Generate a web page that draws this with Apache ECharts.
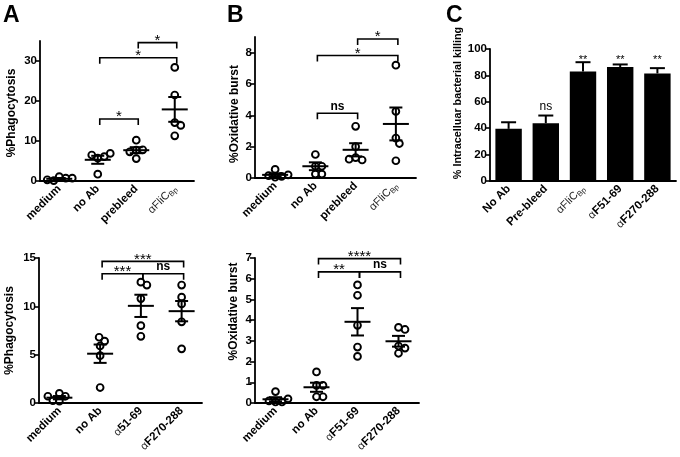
<!DOCTYPE html>
<html><head><meta charset="utf-8">
<script src="https://cdn.jsdelivr.net/npm/echarts@6/dist/echarts.min.js"></script>
<style>html,body{margin:0;padding:0;background:#fff}#c{width:680px;height:457px}</style>
</head><body><div id="c"></div>
<script>
// ---------------- DATA ----------------
const catsTop = ['medium', 'no Ab', 'prebleed', 'αFliCBp'];
const catsBotA = ['medium', 'no Ab', 'α51-69', 'αF270-288'];
const catsBotB = ['medium', 'no Ab', 'αF51-69', 'αF270-288'];
const catsC = ['No Ab', 'Pre-bleed', 'αFliCBp', 'αF51-69', 'αF270-288'];

// Panel A (top): % phagocytosis, individual donors
const phagoTop = [
  [1.1, 0.7, 0.1, 0.3, 0.7],
  [5.7, 6.1, 6.5, 6.9, 1.7],
  [7.7, 7.8, 7.3, 10.2, 5.6],
  [28.4, 21.5, 14.6, 13.9, 11.3]
];
const phagoTopMean = [0.55, 5.3, 7.7, 17.9];
const phagoTopSem = [0.2, 1.0, 0.75, 3.1];

// Panel B (top): % oxidative burst
const oxTop = [
  [0.05, 0.1, 0.55, 0.15, 0.2],
  [0.75, 0.75, 1.5, 0.25, 0.25],
  [3.3, 2.0, 1.3, 1.15, 1.2],
  [7.2, 4.25, 2.55, 2.2, 1.1]
];
const oxTopMean = [0.2, 0.75, 1.8, 3.45];
const oxTopSem = [0.1, 0.25, 0.42, 1.05];

// Panel A (bottom): % phagocytosis
const phagoBot = [
  [1.0, 0.7, 0.2, 0.25, 0.7],
  [5.9, 6.4, 6.8, 4.9, 1.6],
  [12.5, 12.2, 10.8, 8.0, 6.9],
  [12.2, 10.95, 10.25, 8.4, 5.6]
];
const phagoBotMean = [0.55, 5.1, 10.05, 9.5];
const phagoBotSem = [0.17, 0.95, 1.15, 1.05];

// Panel B (bottom): % oxidative burst
const oxBot = [
  [0.05, 0.05, 0.55, 0.1, 0.2],
  [0.85, 0.85, 1.5, 0.3, 0.3],
  [5.7, 5.2, 3.75, 2.7, 2.25],
  [3.65, 3.55, 2.75, 2.4, 2.65]
];
const oxBotMean = [0.18, 0.76, 3.92, 2.98];
const oxBotSem = [0.1, 0.22, 0.66, 0.26];

// Panel C: % intracellular bacterial killing (mean, SEM, significance)
const killC = [39.5, 43.8, 83.0, 86.3, 81.5];
const killCErr = [5.0, 5.8, 7.0, 2.0, 4.0];
const killCSig = ['', 'ns', '**', '**', '**'];

// Comparisons: [fromIndex, toIndex, bracket level, label]
const sigPhagoTop = [[2, 3, 34.6, '*'], [1, 3, 30.8, '*'], [1, 2, 15.5, '*']];
const sigOxTop = [[2, 3, 8.87, '*'], [1, 3, 7.82, '*'], [1, 2, 4.13, 'ns']];
const sigPhagoBot = [[1, 3, 14.65, '***'], [1, 2, 13.37, '***'], [2, 3, 13.37, 'ns']];
const sigOxBot = [[1, 3, 6.97, '****'], [1, 2, 6.33, '**'], [2, 3, 6.33, 'ns']];

// Tick labels
const ticksPhagoTop = [0, 10, 20, 30];
const ticksOxTop = [0, 2, 4, 6, 8];
const ticksPhagoBot = [0, 5, 10, 15];
const ticksOxBot = [0, 1, 2, 3, 4, 5, 6, 7];
const ticksC = [0, 20, 40, 60, 80, 100];

// ---------------- STYLE / HELPERS ----------------
const FONT = '"Liberation Sans", Arial, Helvetica, sans-serif';
const BLACK = '#000';

function catLabel(s) {
  if (s[0] !== 'α') return '{b|' + s + '}';
  const rest = s.slice(1);
  if (rest.indexOf('FliC') === 0) return '{g|αFliC}{s|' + rest.slice(4) + '}';
  return '{g|α}{b|' + rest + '}';
}
const richLab = {
  b: { fontSize: 11.5, fontWeight: 'bold', color: BLACK, fontFamily: FONT, lineHeight: 14 },
  g: { fontSize: 11, fontWeight: 'normal', color: '#222', fontFamily: FONT, lineHeight: 14 },
  s: { fontSize: 7.5, fontWeight: 'normal', color: '#222', fontFamily: FONT, lineHeight: 14, verticalAlign: 'bottom', padding: [5, 0, 0, 0] }
};

function xAx(gi, cats) {
  return {
    type: 'category', gridIndex: gi, data: cats, boundaryGap: true,
    axisLine: { lineStyle: { color: BLACK, width: 1.8 } },
    axisTick: { alignWithLabel: true, length: 5, lineStyle: { color: BLACK, width: 1.6 } },
    axisLabel: { interval: 0, rotate: 45, margin: 6, formatter: catLabel, rich: richLab }
  };
}
function yAx(gi, max, interval, ticks, name, gap, pad, fs) {
  return {
    type: 'value', gridIndex: gi, min: 0, max: max, interval: interval,
    name: name, nameLocation: 'middle', nameRotate: 90, nameGap: gap,
    nameTextStyle: { fontSize: fs || 12, fontWeight: 'bold', color: BLACK, fontFamily: FONT, padding: pad },
    splitLine: { show: false },
    axisLine: { show: true, lineStyle: { color: BLACK, width: 1.8 } },
    axisTick: { show: true, length: 5, customValues: ticks, lineStyle: { color: BLACK, width: 1.6 } },
    axisLabel: { customValues: ticks, margin: 3, fontSize: 11.5, fontWeight: 'bold', color: BLACK, fontFamily: FONT }
  };
}

// simple beeswarm in pixel space
function swarm(ys, D) {
  const placed = [], out = [];
  for (const y of ys) {
    let x = 0;
    for (let s = 0; s < 400; s++) {
      const cand = s === 0 ? 0 : (s % 2 ? 1 : -1) * Math.ceil(s / 2) * 0.5;
      if (placed.every(p => Math.hypot(p[0] - cand, p[1] - y) >= D)) { x = cand; break; }
    }
    placed.push([x, y]); out.push(x);
  }
  return out;
}

function dotSeries(gi, groups, means, sems) {
  return {
    type: 'custom', xAxisIndex: gi, yAxisIndex: gi, clip: false, z: 3,
    data: means.map((m, i) => [i, m, sems[i]]),
    renderItem(params, api) {
      const i = api.value(0), m = api.value(1), s = api.value(2);
      const vals = groups[params.dataIndex];
      const c = api.coord([i, m]);
      const ys = vals.map(v => api.coord([i, v])[1]);
      const offs = swarm(ys, 6.5);
      const ch = vals.map((v, k) => ({
        type: 'circle', shape: { cx: c[0] + offs[k], cy: ys[k], r: 3.4 },
        style: { fill: 'none', stroke: BLACK, lineWidth: 1.9 }
      }));
      const top = api.coord([i, m + s])[1], bot = api.coord([i, Math.max(0, m - s)])[1];
      const ln = (x1, y1, x2, y2) => ({ type: 'line', shape: { x1, y1, x2, y2 }, style: { stroke: BLACK, lineWidth: 2 } });
      ch.push(ln(c[0] - 13, c[1], c[0] + 13, c[1]));
      ch.push(ln(c[0], top, c[0], bot));
      ch.push(ln(c[0] - 6.5, top, c[0] + 6.5, top));
      ch.push(ln(c[0] - 6.5, bot, c[0] + 6.5, bot));
      return { type: 'group', children: ch };
    }
  };
}

function bracketSeries(gi, comps) {
  return {
    type: 'custom', xAxisIndex: gi, yAxisIndex: gi, clip: false, z: 4,
    data: comps.map(c => [c[0], c[1], c[2]]),
    renderItem(params, api) {
      const a = api.coord([api.value(0), api.value(2)]);
      const b = api.coord([api.value(1), api.value(2)]);
      const x0 = a[0] + 2, x1 = b[0] + 2, y = a[1];
      const txt = comps[params.dataIndex][3];
      const star = txt.indexOf('*') >= 0;
      return {
        type: 'group', children: [
          { type: 'polyline', shape: { points: [[x0, y + 6], [x0, y], [x1, y], [x1, y + 6]] },
            style: { fill: 'none', stroke: BLACK, lineWidth: 1.6 } },
          { type: 'text', x: (x0 + x1) / 2, y: y - (star ? 2 : 7),
            style: { text: txt, fill: BLACK, align: 'center', verticalAlign: 'middle',
              fontFamily: FONT, fontSize: star ? 15 : 12, fontWeight: star ? 'normal' : 'bold' } }
        ]
      };
    }
  };
}

const grids = [
  { left: 40, top: 41, width: 154, height: 140 },
  { left: 255, top: 37, width: 161, height: 141 },
  { left: 39, top: 258, width: 163, height: 145 },
  { left: 255, top: 258, width: 164, height: 145 },
  { left: 490, top: 49, width: 186, height: 132 }
];

const option = {
  animation: false,
  backgroundColor: '#fff',
  textStyle: { fontFamily: FONT },
  grid: grids,
  xAxis: [xAx(0, catsTop), xAx(1, catsTop), xAx(2, catsBotA), xAx(3, catsBotB), xAx(4, catsC)],
  yAxis: [
    yAx(0, 35, 10, ticksPhagoTop, '%Phagocytosis', 22, [0, 4, 0, 0]),
    yAx(1, 9, 2, ticksOxTop, '%Oxidative burst', 14, [0, 13, 0, 0]),
    yAx(2, 15, 5, ticksPhagoBot, '%Phagocytosis', 23, [0, 0, 0, 0]),
    yAx(3, 7, 1, ticksOxBot, '%Oxidative burst', 15, [0, 0, 0, 38]),
    yAx(4, 100, 20, ticksC, '% Intracelluar bacterial killing', 26, [0, 0, 0, 24], 10.8)
  ],
  series: [
    dotSeries(0, phagoTop, phagoTopMean, phagoTopSem),
    bracketSeries(0, sigPhagoTop),
    dotSeries(1, oxTop, oxTopMean, oxTopSem),
    bracketSeries(1, sigOxTop),
    dotSeries(2, phagoBot, phagoBotMean, phagoBotSem),
    bracketSeries(2, sigPhagoBot),
    dotSeries(3, oxBot, oxBotMean, oxBotSem),
    bracketSeries(3, sigOxBot),
    {
      type: 'bar', xAxisIndex: 4, yAxisIndex: 4, data: killC, barWidth: '71%',
      itemStyle: { color: BLACK }
    },
    {
      type: 'custom', xAxisIndex: 4, yAxisIndex: 4, clip: false, z: 5,
      data: killC.map((v, i) => [i, v, killCErr[i]]),
      renderItem(params, api) {
        const i = api.value(0), v = api.value(1), e = api.value(2);
        const p0 = api.coord([i, v]), p1 = api.coord([i, v + e]);
        const sig = killCSig[params.dataIndex];
        let lvl = 0;
        killC.forEach((vv, k) => { if (killCSig[k] === sig) lvl = Math.max(lvl, vv + killCErr[k]); });
        const ly = api.coord([i, lvl])[1];
        const ch = [
          { type: 'line', shape: { x1: p0[0], y1: p0[1], x2: p1[0], y2: p1[1] }, style: { stroke: BLACK, lineWidth: 2 } },
          { type: 'line', shape: { x1: p1[0] - 7.5, y1: p1[1], x2: p1[0] + 7.5, y2: p1[1] }, style: { stroke: BLACK, lineWidth: 2 } }
        ];
        if (sig) {
          const star = sig.indexOf('*') >= 0;
          ch.push({ type: 'text', x: p1[0], y: ly - (star ? 2 : 9),
            style: { text: sig, fill: BLACK, align: 'center', verticalAlign: 'middle', fontFamily: FONT,
              fontSize: star ? 11 : 12, fontWeight: 'normal' } });
        }
        return { type: 'group', children: ch };
      }
    }
  ],
  graphic: [
    { type: 'text', left: 3, top: 4, style: { text: 'A', fill: BLACK, font: 'bold 23px ' + FONT } },
    { type: 'text', left: 227, top: 4, style: { text: 'B', fill: BLACK, font: 'bold 23px ' + FONT } },
    { type: 'text', left: 446, top: 4, style: { text: 'C', fill: BLACK, font: 'bold 23px ' + FONT } }
  ]
};

const chart = echarts.init(document.getElementById('c'), null, { renderer: 'canvas' });
chart.setOption(option);
</script>
</body></html>
